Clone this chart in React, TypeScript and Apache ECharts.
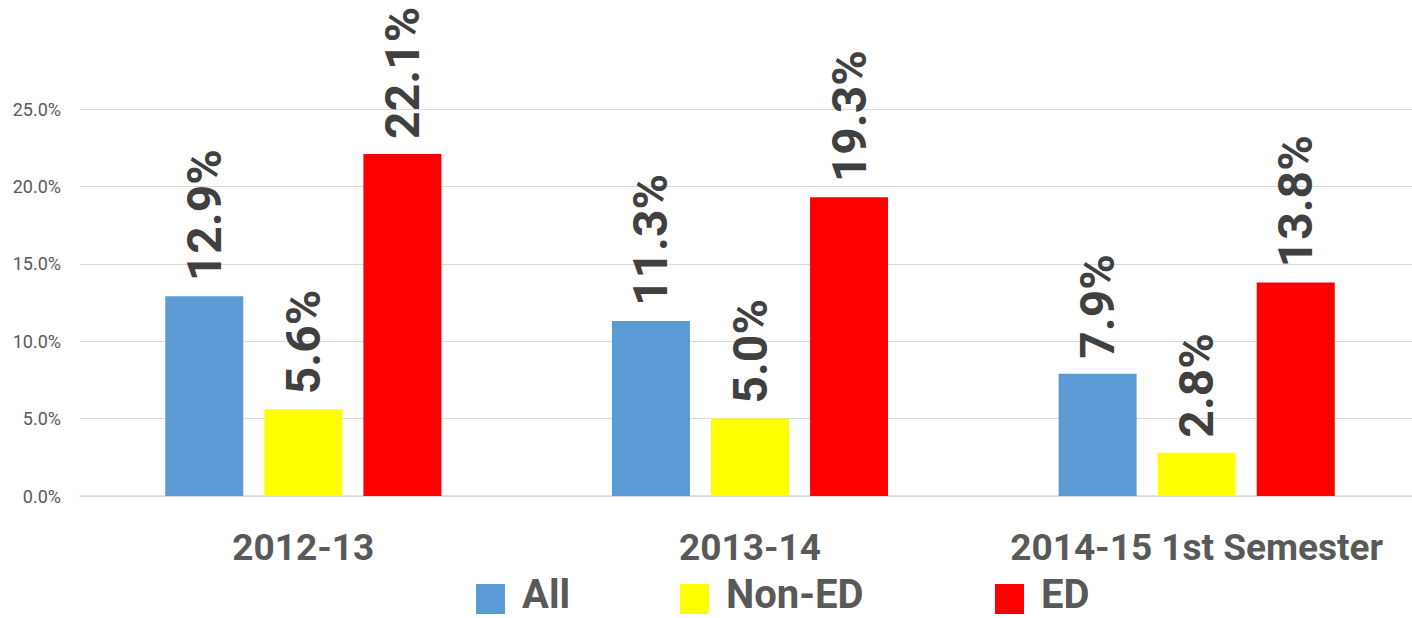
import React, { useEffect, useRef } from "react";
import * as echarts from "echarts";

const categories = ["2012-13", "2013-14", "2014-15 1st Semester"];
const seriesNames = ["All", "Non-ED", "ED"];
const allValues = [12.9, 11.3, 7.9];
const nonEdValues = [5.6, 5.0, 2.8];
const edValues = [22.1, 19.3, 13.8];
const seriesColors = ["#5B9BD5", "#FFFF00", "#FF0000"];
const yTicks = { min: 0, max: 25, interval: 5 };

export default function App() {
  const ref = useRef<HTMLDivElement>(null);
  useEffect(() => {
    if (!ref.current) return;
    const chart = echarts.init(ref.current, null, { renderer: "svg" });
    const values = [allValues, nonEdValues, edValues];
    const legendLefts = [476, 680, 995];
    const font = "Roboto";
    // square drawn in the lower part of a 29x40 icon box
    const legendIcon = "path://M0,0M0,10L29,10L29,40L0,40Z";
    chart.setOption({
      animation: false,
      backgroundColor: "#ffffff",
      grid: { left: 80, top: 109, width: 1340, height: 387, containLabel: false },
      legend: seriesNames.map((n, i) => ({
        data: [n],
        left: legendLefts[i],
        top: 574,
        itemWidth: 29,
        itemHeight: 40,
        icon: legendIcon,
        padding: 0,
        textStyle: {
          fontFamily: font,
          fontWeight: "bold",
          fontSize: 40,
          color: "#595959",
          padding: [0, 0, 0, 12],
          lineHeight: 40,
        },
      })),
      xAxis: {
        type: "category",
        data: categories,
        axisLine: { show: true, lineStyle: { color: "#d9d9d9", width: 1.5 } },
        axisTick: { show: false },
        axisLabel: {
          fontFamily: font,
          fontWeight: "bold",
          fontSize: 37,
          color: "#595959",
          margin: 33,
          interval: 0,
        },
      },
      yAxis: {
        type: "value",
        min: yTicks.min,
        max: yTicks.max,
        interval: yTicks.interval,
        axisLine: { show: false },
        axisTick: { show: false },
        splitLine: { lineStyle: { color: "#d9d9d9", width: 1 } },
        axisLabel: {
          fontFamily: font,
          fontSize: 18,
          color: "#595959",
          margin: 19,
          formatter: (v: number) => v.toFixed(1) + "%",
        },
      },
      series: seriesNames.map((n, i) => ({
        name: n,
        type: "bar",
        data: values[i],
        barWidth: 78,
        barGap: "27%",
        itemStyle: { color: seriesColors[i] },
        label: {
          show: true,
          position: "top",
          rotate: 90,
          align: "left",
          verticalAlign: "middle",
          distance: 15,
          fontFamily: font,
          fontWeight: "bold",
          fontSize: 48,
          color: "#404040",
          formatter: (p: any) => Number(p.value).toFixed(1) + "%",
        },
      })),
    });
    return () => chart.dispose();
  }, []);
  return (
    <div
      style={{
        position: "absolute",
        left: 0,
        top: 0,
        width: 1412,
        height: 618,
        overflow: "hidden",
      }}
    >
      <div ref={ref} style={{ width: 1430, height: 618 }} />
    </div>
  );
}
